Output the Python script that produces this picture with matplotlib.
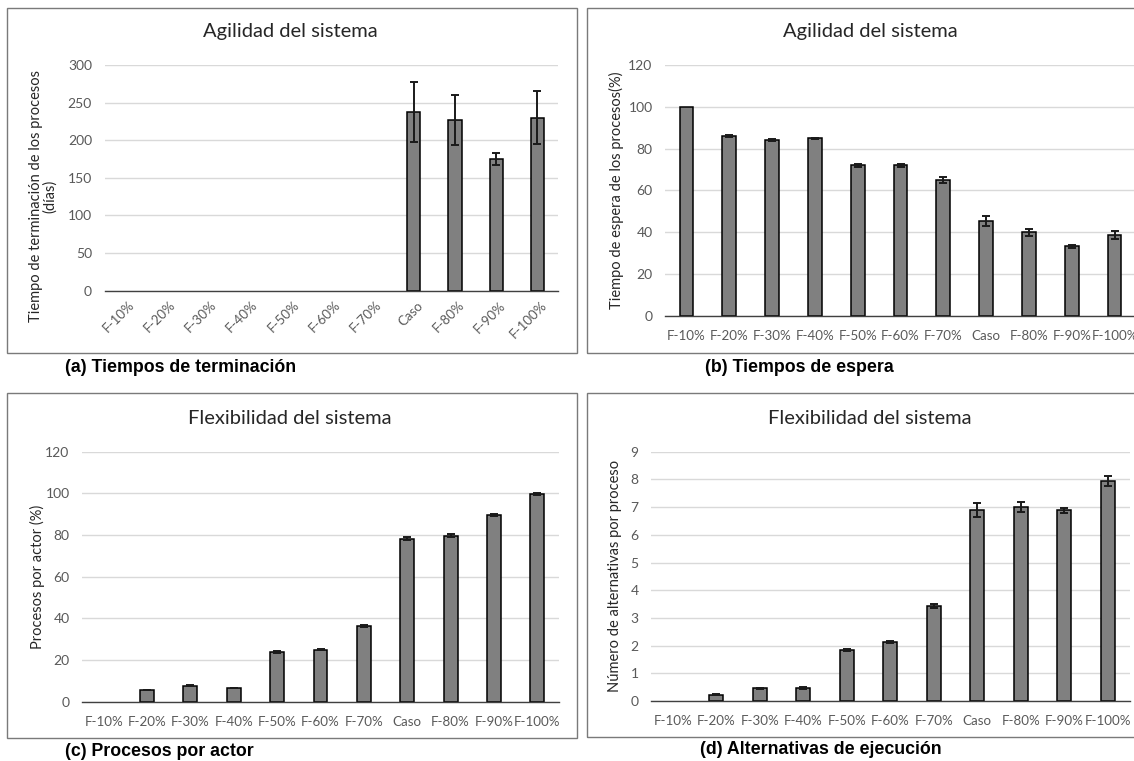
import matplotlib
matplotlib.use("Agg")
import matplotlib.pyplot as plt
from matplotlib.patches import Rectangle
from matplotlib.transforms import ScaledTranslation
import numpy as np

plt.rcParams["font.family"] = ["Lato", "DejaVu Sans"]

categories = ["F-10%", "F-20%", "F-30%", "F-40%", "F-50%", "F-60%", "F-70%",
              "Caso", "F-80%", "F-90%", "F-100%"]

# (a) completion time (days)
completion_mean = [0, 0, 0, 0, 0, 0, 0, 238, 227, 175, 230]
completion_err = [0, 0, 0, 0, 0, 0, 0, 40, 33, 8, 35]

# (b) waiting time (%)
waiting_mean = [100, 86, 84, 85, 72, 72, 65, 45.3, 40, 33.2, 38.5]
waiting_err = [0, 0.5, 0.5, 0.2, 0.7, 0.7, 1.3, 2.5, 1.7, 0.7, 2.0]

# (c) processes per actor (%)
actor_mean = [0, 5.6, 7.7, 6.6, 23.8, 24.9, 36.4, 78.3, 79.7, 89.7, 99.6]
actor_err = [0, 0.2, 0.2, 0.2, 0.3, 0.3, 0.6, 0.8, 0.6, 0.6, 0.6]

# (d) execution alternatives per process
alt_mean = [0, 0.23, 0.46, 0.46, 1.84, 2.14, 3.43, 6.88, 7.01, 6.88, 7.95]
alt_err = [0, 0.02, 0.02, 0.03, 0.05, 0.04, 0.07, 0.25, 0.19, 0.1, 0.18]

W, H = 1134, 761
fig = plt.figure(figsize=(W / 100, H / 100), dpi=100)
fig.patch.set_facecolor("white")


def px_axes(x0, x1, y_top, y_bottom):
    return fig.add_axes([x0 / W, 1 - y_bottom / H, (x1 - x0) / W, (y_bottom - y_top) / H])


def frame(x0, y0, x1, y1):
    fig.add_artist(Rectangle((x0 / W, 1 - y1 / H), (x1 - x0) / W, (y1 - y0) / H,
                             transform=fig.transFigure, fill=False,
                             edgecolor="#7a7a7a", linewidth=1.0))


BAR_COLOR = "#808080"
GRID = "#d9d9d9"
TICK_COLOR = "#595959"


def bar_panel(ax, means, errs, ymax, ystep, title, ylabel, title_xy,
              rotate=False, label_xy=(-0.1, 0.5)):
    x = np.arange(len(categories))
    means = np.asarray(means, dtype=float)
    errs = np.asarray(errs, dtype=float)
    shown = means > 0
    ax.bar(x[shown], means[shown], width=0.32, color=BAR_COLOR,
           edgecolor="black", linewidth=1.1, zorder=3)
    has_err = shown & (errs > 0)
    ax.errorbar(x[has_err], means[has_err], yerr=errs[has_err], fmt="none",
                ecolor="#1a1a1a", elinewidth=1.4, capsize=2.8, capthick=1.4,
                zorder=4)
    ax.set_xlim(-0.5, len(categories) - 0.5)
    ax.set_ylim(0, ymax)
    ax.set_yticks(np.arange(0, ymax + ystep / 2, ystep))
    ax.yaxis.grid(True, color=GRID, linewidth=1.0)
    ax.set_axisbelow(True)
    for s in ("top", "right", "left"):
        ax.spines[s].set_visible(False)
    ax.spines["bottom"].set_color("#404040")
    ax.spines["bottom"].set_linewidth(1.0)
    ax.spines["bottom"].set_zorder(5)
    ax.tick_params(length=0, labelsize=9.6, colors=TICK_COLOR)
    ax.tick_params(axis="y", labelsize=10, pad=9)
    ax.set_xticks(x)
    if rotate:
        ax.set_xticklabels(categories, rotation=45, ha="right",
                           rotation_mode="anchor", va="center")
        ax.tick_params(axis="x", pad=9)
        shift = ScaledTranslation(7 / 100, 0, fig.dpi_scale_trans)
        for lab in ax.get_xticklabels():
            lab.set_transform(lab.get_transform() + shift)
    else:
        ax.set_xticklabels(categories)
        ax.tick_params(axis="x", pad=10)
    ax.set_ylabel(ylabel, fontsize=10.5, color="#262626", linespacing=1.0)
    ax.yaxis.label.set_va("center")
    ax.yaxis.set_label_coords(*label_xy)
    fig.text(title_xy[0] / W, 1 - title_xy[1] / H, title, fontsize=14.5,
             color="#262626", ha="center", va="center")


# panel frames
frame(7, 8, 577, 353)
frame(587, 8, 1150, 353)
frame(7, 393, 577, 738)
frame(587, 393, 1150, 737)

ax_a = px_axes(104.5, 558, 65, 290.7)
bar_panel(ax_a, completion_mean, completion_err, 300, 50,
          "Agilidad del sistema",
          "Tiempo de terminación de los procesos\n(días)", (290, 32),
          rotate=True, label_xy=(-0.135, 0.42))

ax_b = px_axes(665, 1136, 65, 315.7)
bar_panel(ax_b, waiting_mean, waiting_err, 120, 20,
          "Agilidad del sistema",
          "Tiempo de espera de los procesos(%)", (870, 32),
          label_xy=(-0.102, 0.5))

ax_c = px_axes(82, 559, 451.7, 701.7)
bar_panel(ax_c, actor_mean, actor_err, 120, 20,
          "Flexibilidad del sistema",
          "Procesos por actor (%)", (290, 418),
          label_xy=(-0.094, 0.5))

ax_d = px_axes(651, 1129.5, 451.7, 701)
bar_panel(ax_d, alt_mean, alt_err, 9, 1,
          "Flexibilidad del sistema",
          "Número de alternativas por proceso", (870, 418),
          label_xy=(-0.075, 0.5))

# sub-figure captions
cap_kw = dict(fontsize=12.8, fontweight="bold", family="Liberation Sans",
              color="black", ha="left", va="center")
fig.text(65 / W, 1 - 367 / H, "(a) Tiempos de terminación", **cap_kw)
fig.text(705 / W, 1 - 367 / H, "(b) Tiempos de espera", **cap_kw)
fig.text(65 / W, 1 - 752 / H, "(c) Procesos por actor", **cap_kw)
fig.text(700 / W, 1 - 750 / H, "(d) Alternativas de ejecución", **cap_kw)

fig.savefig("out.png", dpi=100)
